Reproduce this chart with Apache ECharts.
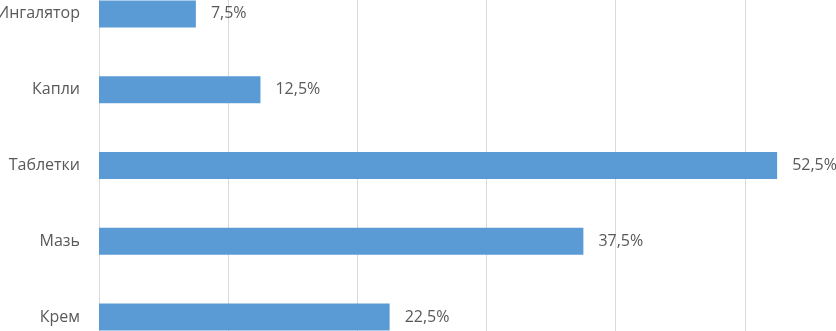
<!DOCTYPE html>
<html><head><meta charset="utf-8">
<script src="https://cdn.jsdelivr.net/npm/echarts@6/dist/echarts.min.js"></script>
<style>html,body{margin:0;padding:0;background:#fff;overflow:hidden;width:836px;height:331px;position:relative}
#c{position:absolute;left:0;top:-24px;width:874px;height:379px}</style>
</head><body><div id="c"></div>
<script>
const categories = ['Крем', 'Мазь', 'Таблетки', 'Капли', 'Ингалятор'];
const values = [22.5, 37.5, 52.5, 12.5, 7.5];
const chart = echarts.init(document.getElementById('c'), null, {renderer: 'canvas'});
chart.setOption({
  animation: false,
  grid: {left: 99, right: 0, top: 0, bottom: 0, containLabel: false, outerBoundsMode: 'none'},
  xAxis: {
    type: 'value', min: 0, max: 60, interval: 10,
    axisLabel: {show: false}, axisLine: {show: false}, axisTick: {show: false},
    splitLine: {show: true, lineStyle: {color: '#d9d9d9', width: 1}}
  },
  yAxis: {
    type: 'category', data: categories,
    axisLine: {show: true, lineStyle: {color: '#d9d9d9'}},
    axisTick: {show: false},
    axisLabel: {color: '#595959', fontSize: 16, fontFamily: 'Open Sans', margin: 19, padding: [4, 0, 0, 0]}
  },
  series: [{
    type: 'bar', data: values, barWidth: 27,
    itemStyle: {color: '#5b9bd5'},
    label: {
      show: true, position: 'right', distance: 15, padding: [4, 0, 0, 0],
      color: '#595959', fontSize: 16, fontFamily: 'Open Sans',
      formatter: p => String(p.value).replace('.', ',') + '%'
    }
  }]
});
</script></body></html>
